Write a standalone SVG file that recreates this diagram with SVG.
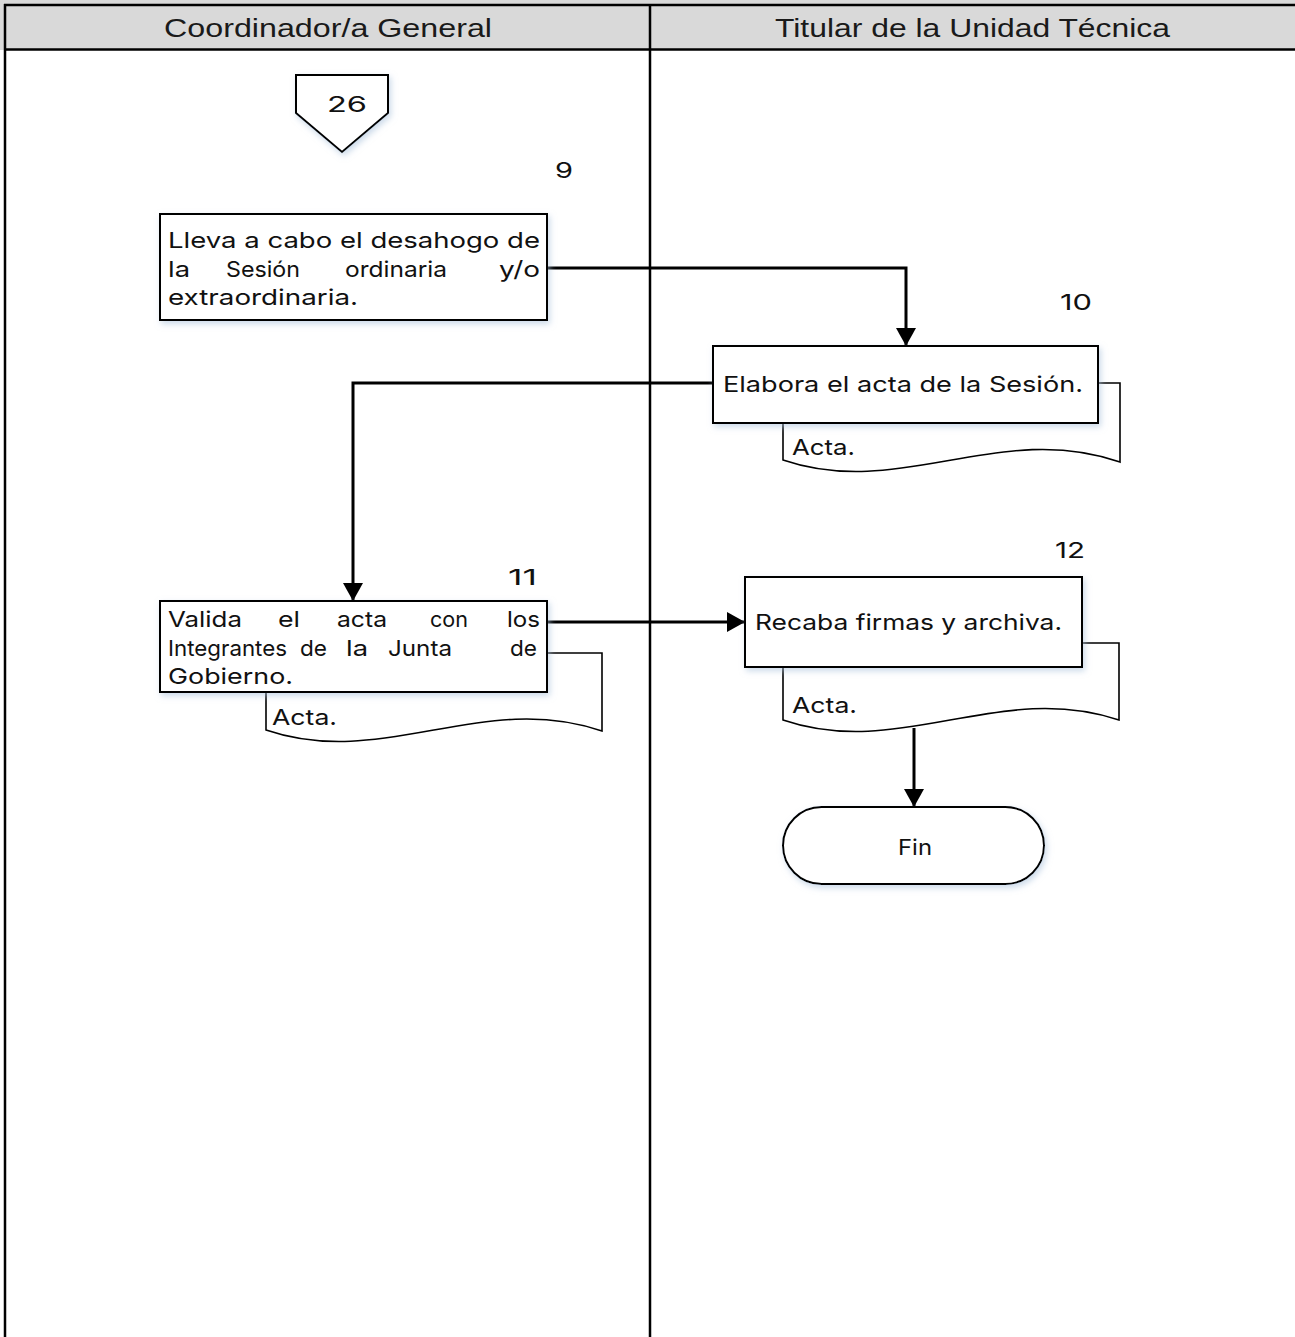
<svg xmlns="http://www.w3.org/2000/svg" width="1295" height="1337" viewBox="0 0 1295 1337">
<style>
.lane{stroke:#000;stroke-width:2.5;fill:none}
.hdr{font-family:"Liberation Sans",Arial,sans-serif;font-size:26px;fill:#1a1a1a}
.t{font-family:Inter,"Noto Sans","Liberation Sans",sans-serif;font-size:22px;fill:#111}
.box{fill:#fff;stroke:#000;stroke-width:2;filter:url(#sh)}
.doc{fill:#fff;stroke:#000;stroke-width:1.6}
.con{fill:none;stroke:#000;stroke-width:3}
</style>
<defs>
<filter id="sh" x="-10%" y="-10%" width="130%" height="140%">
<feDropShadow dx="2" dy="3" stdDeviation="3" flood-color="#a9c1dc" flood-opacity="0.6"/>
</filter>
<marker id="ah" viewBox="0 0 18 20" refX="18" refY="10" markerWidth="18" markerHeight="20" markerUnits="userSpaceOnUse" orient="auto">
<path d="M0,0 L18,10 L0,20 Z" fill="#000"/>
</marker>
</defs>
<rect width="1295" height="1337" fill="#fff"/>
<g id="header">
<rect x="0" y="0" width="1295" height="50" fill="#d9d9d9"/>
<line class="lane" x1="4" y1="5" x2="1295" y2="5"/>
<line class="lane" x1="4" y1="49.5" x2="1295" y2="49.5"/>
<line class="lane" x1="5" y1="4" x2="5" y2="1337"/>
<line class="lane" x1="650" y1="4" x2="650" y2="1337"/>
<text class="hdr" x="164" y="37" textLength="328" lengthAdjust="spacingAndGlyphs">Coordinador/a General</text>
<text class="hdr" x="775" y="37" textLength="395" lengthAdjust="spacingAndGlyphs">Titular de la Unidad Técnica</text>
</g>
<g id="connectors">
<path class="con" d="M547,268 L906,268 L906,346" marker-end="url(#ah)"/>
<path class="con" d="M713,383 L353,383 L353,601" marker-end="url(#ah)"/>
<path class="con" d="M547,622 L745,622" marker-end="url(#ah)"/>
<path class="con" d="M914,728 L914,807" marker-end="url(#ah)"/>
</g>
<g id="offpage26">
<polygon points="296,75 388,75 388,113 342,152 296,113" class="box"/>
<text class="t" x="327" y="112" font-size="23" textLength="40" lengthAdjust="spacingAndGlyphs">26</text>
</g>
<g id="step9">
<text class="t" x="555" y="178" font-size="23" textLength="18" lengthAdjust="spacingAndGlyphs">9</text>
<rect class="box" x="160" y="214" width="387" height="106"/>
<text class="t" x="168" y="248" textLength="372" lengthAdjust="spacingAndGlyphs">Lleva a cabo el desahogo de</text>
<text class="t" x="168" y="277" textLength="22" lengthAdjust="spacingAndGlyphs">la</text>
<text class="t" x="226" y="277" textLength="74" lengthAdjust="spacingAndGlyphs">Sesión</text>
<text class="t" x="345" y="277" textLength="102" lengthAdjust="spacingAndGlyphs">ordinaria</text>
<text class="t" x="499" y="277" textLength="41" lengthAdjust="spacingAndGlyphs">y/o</text>
<text class="t" x="168" y="305" textLength="190" lengthAdjust="spacingAndGlyphs">extraordinaria.</text>
</g>
<g id="step10">
<text class="t" x="1060" y="310" font-size="23" textLength="32" lengthAdjust="spacingAndGlyphs">10</text>
<path class="doc" d="M783,383 L1120,383 L1120,462 C1000,420 900,500 783,460 Z"/>
<rect class="box" x="713" y="346" width="385" height="77"/>
<text class="t" x="723" y="392" textLength="360" lengthAdjust="spacingAndGlyphs">Elabora el acta de la Sesión.</text>
<text class="t" x="792" y="455" textLength="63" lengthAdjust="spacingAndGlyphs">Acta.</text>
</g>
<g id="step11">
<text class="t" x="508" y="585" font-size="23" textLength="29" lengthAdjust="spacingAndGlyphs">11</text>
<path class="doc" d="M266,653 L602,653 L602,731 C483,690 383,770 266,730 Z"/>
<rect class="box" x="160" y="601" width="387" height="91"/>
<text class="t" x="168" y="627" textLength="74" lengthAdjust="spacingAndGlyphs">Valida</text>
<text class="t" x="278" y="627" textLength="22" lengthAdjust="spacingAndGlyphs">el</text>
<text class="t" x="337" y="627" textLength="50" lengthAdjust="spacingAndGlyphs">acta</text>
<text class="t" x="430" y="627" textLength="38" lengthAdjust="spacingAndGlyphs">con</text>
<text class="t" x="507" y="627" textLength="33" lengthAdjust="spacingAndGlyphs">los</text>
<text class="t" x="168" y="656" textLength="119" lengthAdjust="spacingAndGlyphs">Integrantes</text>
<text class="t" x="300" y="656" textLength="27" lengthAdjust="spacingAndGlyphs">de</text>
<text class="t" x="346" y="656" textLength="22" lengthAdjust="spacingAndGlyphs">la</text>
<text class="t" x="388" y="656" textLength="64" lengthAdjust="spacingAndGlyphs">Junta</text>
<text class="t" x="510" y="656" textLength="27" lengthAdjust="spacingAndGlyphs">de</text>
<text class="t" x="168" y="684" textLength="125" lengthAdjust="spacingAndGlyphs">Gobierno.</text>
<text class="t" x="272" y="725" textLength="65" lengthAdjust="spacingAndGlyphs">Acta.</text>
</g>
<g id="step12">
<text class="t" x="1055" y="558" font-size="23" textLength="30" lengthAdjust="spacingAndGlyphs">12</text>
<path class="doc" d="M783,643 L1119,643 L1119,720 C1000,680 900,760 783,720 Z"/>
<rect class="box" x="745" y="577" width="337" height="90"/>
<text class="t" x="755" y="630" textLength="307" lengthAdjust="spacingAndGlyphs">Recaba firmas y archiva.</text>
<text class="t" x="792" y="713" textLength="65" lengthAdjust="spacingAndGlyphs">Acta.</text>
</g>
<g id="fin">
<rect class="box" x="783" y="807" width="261" height="77" rx="38.5"/>
<text class="t" x="898" y="855" textLength="34" lengthAdjust="spacingAndGlyphs">Fin</text>
</g>
</svg>
